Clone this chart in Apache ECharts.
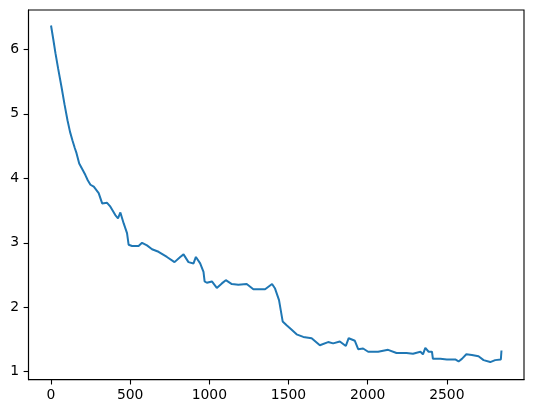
<!DOCTYPE html>
<html>
<head>
<meta charset="utf-8">
<script src="https://cdn.jsdelivr.net/npm/echarts@6/dist/echarts.min.js"></script>
<style>html,body{margin:0;padding:0;background:#fff}#c{width:534px;height:413px}</style>
</head>
<body>
<div id="c"></div>
<script>
var xs = [0, 14, 28, 45, 66, 85, 104, 120, 135, 150, 161, 178, 202, 217, 232, 249, 270, 280, 301, 323, 354, 375, 406, 423, 438, 459, 480, 490, 512, 553, 575, 606, 638, 679, 732, 780, 816, 837, 868, 900, 915, 942, 963, 970, 984, 1016, 1047, 1079, 1104, 1142, 1183, 1236, 1278, 1352, 1396, 1415, 1440, 1463, 1488, 1520, 1551, 1593, 1646, 1698, 1750, 1782, 1824, 1862, 1880, 1900, 1919, 1940, 1971, 2003, 2066, 2129, 2182, 2245, 2286, 2333, 2349, 2364, 2385, 2406, 2412, 2459, 2500, 2553, 2574, 2595, 2623, 2658, 2700, 2732, 2774, 2805, 2841, 2845];
var ys = [6.37, 6.16, 5.94, 5.70, 5.42, 5.15, 4.90, 4.72, 4.59, 4.47, 4.39, 4.23, 4.12, 4.05, 3.97, 3.90, 3.87, 3.84, 3.77, 3.61, 3.62, 3.56, 3.43, 3.38, 3.47, 3.30, 3.15, 2.97, 2.95, 2.95, 3.00, 2.96, 2.90, 2.86, 2.78, 2.70, 2.78, 2.82, 2.70, 2.68, 2.78, 2.68, 2.55, 2.40, 2.38, 2.40, 2.30, 2.37, 2.42, 2.36, 2.35, 2.36, 2.28, 2.28, 2.36, 2.29, 2.11, 1.78, 1.72, 1.65, 1.58, 1.54, 1.52, 1.41, 1.46, 1.44, 1.47, 1.40, 1.52, 1.50, 1.48, 1.35, 1.36, 1.31, 1.31, 1.34, 1.29, 1.29, 1.28, 1.31, 1.27, 1.37, 1.31, 1.31, 1.20, 1.20, 1.19, 1.19, 1.16, 1.20, 1.27, 1.26, 1.24, 1.18, 1.15, 1.18, 1.19, 1.33];
var xTicks = [0, 500, 1000, 1500, 2000, 2500];
var yTicks = [1, 2, 3, 4, 5, 6];

var pts = xs.map(function (x, i) { return [x, ys[i]]; });
var chart = echarts.init(document.getElementById('c'), null, {renderer: 'canvas'});
var font = {color: '#000', fontSize: 13.9, fontFamily: 'DejaVu Sans', formatter: function (v) { return String(v); }};
chart.setOption({
  animation: false,
  backgroundColor: '#fff',
  grid: {left: 28.5, right: 10, top: 10, bottom: 33.4, show: true, borderColor: '#000', borderWidth: 1.1, containLabel: false},
  xAxis: {
    type: 'value', min: -142.25, max: 2987.25,
    splitLine: {show: false},
    axisLine: {show: true, onZero: false, lineStyle: {color: '#000', width: 1.1}},
    axisTick: {show: true, length: 4.9, customValues: xTicks, lineStyle: {color: '#000', width: 1.1}},
    axisLabel: Object.assign({margin: 8.5, customValues: xTicks}, font)
  },
  yAxis: {
    type: 'value', min: 0.878, max: 6.61,
    splitLine: {show: false},
    axisLine: {show: true, onZero: false, lineStyle: {color: '#000', width: 1.1}},
    axisTick: {show: true, length: 4.9, customValues: yTicks, lineStyle: {color: '#000', width: 1.1}},
    axisLabel: Object.assign({margin: 9.5, customValues: yTicks}, font)
  },
  series: [{
    type: 'line', data: pts, showSymbol: false, symbol: 'none', smooth: false,
    lineStyle: {color: '#1f77b4', width: 2}
  }]
});
</script>
</body>
</html>
